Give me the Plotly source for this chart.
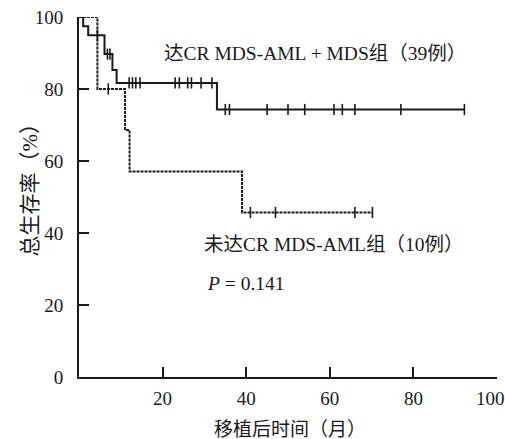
import numpy as np
import plotly.graph_objects as go

# --- Data (months, % survival) ---
cr_times = [0, 1.0, 2.2, 6.1, 8.0, 9.0, 33.0]
cr_surv = [100, 97.4, 94.9, 89.7, 85.3, 81.7, 74.3]
cr_censor = [4.4, 6.8, 7.4, 12.0, 12.8, 13.6, 14.6, 23.0, 24.0, 26.0, 26.9,
             29.2, 31.8, 35.0, 36.0, 45.0, 50.0, 54.0, 61.0, 63.0, 66.0, 77.0, 92.2]

ncr_times = [0, 4.4, 11.0, 12.1, 39.0]
ncr_surv = [100, 80.0, 68.6, 57.1, 45.7]
ncr_censor = [7.0, 41.0, 47.0, 66.0, 70.2]

x_ticks = [20, 40, 60, 80, 100]
x_tick_labels = ["20", "40", "60", "80", "100"]
y_ticks = [0, 20, 40, 60, 80, 100]

label_cr = "达CR MDS-AML + MDS组（39例）"
label_ncr = "未达CR MDS-AML组（10例）"
p_text = "<i>P</i> = 0.141"
x_title = "移植后时间（月）"
y_title = "总生存率（%）"

FONT = "Liberation Serif, 'Noto Sans CJK SC', serif"
INK = "#1a1a1a"


def step_value(times, surv, t):
    idx = np.searchsorted(np.array(times), t, side="right") - 1
    return [surv[i] for i in idx]


def km_trace(times, surv, censor, dash):
    end = max(max(censor), max(times))
    xs = list(times) + [end]
    ys = list(surv) + [surv[-1]]
    line = go.Scatter(x=xs, y=ys, mode="lines", line_shape="hv",
                      line=dict(color=INK, width=2, dash=dash),
                      cliponaxis=False, showlegend=False, hoverinfo="skip")
    marks = go.Scatter(x=censor, y=step_value(times, surv, censor), mode="markers",
                       marker=dict(symbol="line-ns-open", size=8, color=INK,
                                   line=dict(color=INK, width=1.6)),
                       cliponaxis=False, showlegend=False, hoverinfo="skip")
    return [line, marks]


fig = go.Figure()
for tr in km_trace(ncr_times, ncr_surv, ncr_censor, "3px,1px"):
    fig.add_trace(tr)
for tr in km_trace(cr_times, cr_surv, cr_censor, "solid"):
    fig.add_trace(tr)

TS = 19
AS = 19.5
# last x tick label is drawn as an annotation so it can sit inside the page edge
shown_x_text = x_tick_labels[:-1] + [""]
fig.update_layout(
    width=505, height=439,
    margin=dict(l=79, r=8, t=17, b=62, autoexpand=False),
    plot_bgcolor="white", paper_bgcolor="white",
    font=dict(family=FONT, size=AS, color=INK),
    xaxis=dict(range=[0, 100], tickvals=x_ticks, ticktext=shown_x_text,
               ticks="inside", ticklen=10,
               tickwidth=2, tickcolor=INK, showline=True, linewidth=2,
               linecolor=INK, showgrid=False, zeroline=False,
               ticklabelstandoff=3, ticklabeloverflow="allow", tickfont=dict(size=TS)),
    yaxis=dict(range=[0, 100], tickvals=y_ticks, ticks="inside", ticklen=10,
               tickwidth=2, tickcolor=INK, showline=True, linewidth=2,
               linecolor=INK, showgrid=False, zeroline=False,
               ticklabelstandoff=10, ticklabeloverflow="allow", tickfont=dict(size=TS)),
    annotations=[
        dict(x=x_ticks[-1], y=-0.061, xref="x", yref="paper", text=x_tick_labels[-1],
             showarrow=False, xanchor="center", yanchor="middle", xshift=-7,
             borderpad=0, font=dict(size=TS)),
        dict(x=19.8, y=90, xref="x", yref="y", text=label_cr, showarrow=False,
             xanchor="left", yanchor="middle", font=dict(size=AS)),
        dict(x=29.4, y=36.7, xref="x", yref="y", text=label_ncr, showarrow=False,
             xanchor="left", yanchor="middle", font=dict(size=AS)),
        dict(x=30.2, y=26.1, xref="x", yref="y", text=p_text, showarrow=False,
             xanchor="left", yanchor="middle", font=dict(size=AS)),
        dict(x=0.505, y=-0.145, xref="paper", yref="paper", text=x_title,
             showarrow=False, xanchor="center", yanchor="middle", font=dict(size=19)),
        dict(x=-0.117, y=0.535, xref="paper", yref="paper", text=y_title,
             showarrow=False, xanchor="center", yanchor="middle", textangle=-90,
             font=dict(size=21)),
    ],
)

fig.write_html(
    "out.html",
    config={"displayModeBar": False},
    post_script="document.body.style.margin='0';document.body.style.overflow='hidden';",
)
